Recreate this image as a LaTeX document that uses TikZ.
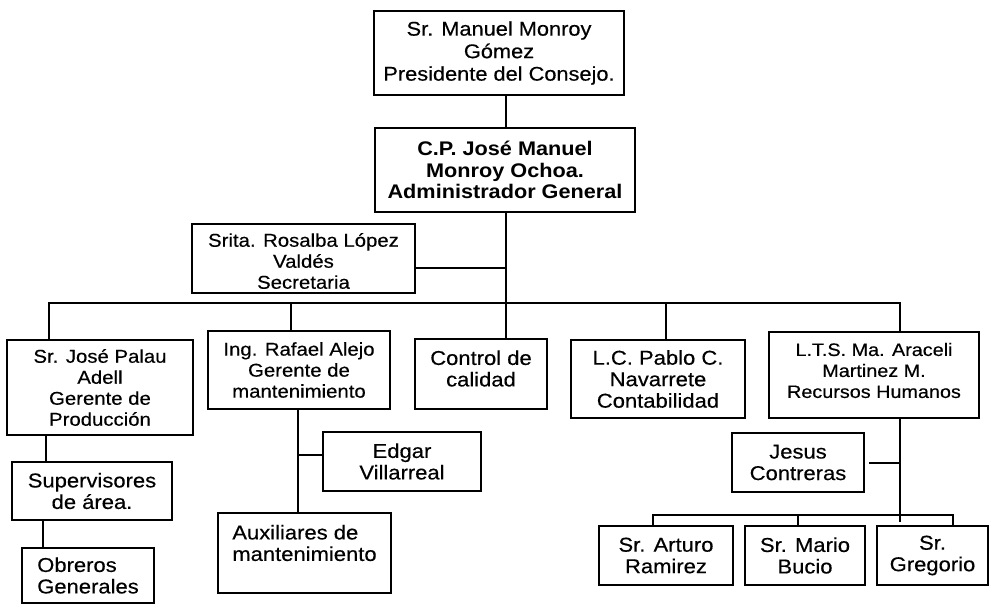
\documentclass[tikz,border=0pt]{standalone}
\usepackage{fontspec}
\setmainfont{Liberation Sans}[FakeStretch=1.1, UprightFeatures={FakeBold=0.4}]
\begin{document}
\begin{tikzpicture}[x=1pt,y=-1pt,
  line width=1.6pt,
  box/.style={draw, line width=1.6pt, inner sep=0pt, align=center},
  txt/.style={inner sep=0pt},
  fa/.style={font=\fontsize{20}{21.5}\selectfont},
  fb/.style={font=\fontsize{18.5}{21}\selectfont},
  fc/.style={font=\fontsize{18}{21}\selectfont},
  ftop/.style={font=\fontsize{19.8}{22.5}\selectfont},
  fbold/.style={font=\fontsize{19.7}{21.5}\selectfont\bfseries}]
\useasboundingbox (0,0) rectangle (990,606);

% boxes
\node[box, ftop, minimum width=250pt, minimum height=84pt] (top) at (499,53)
  {Sr. Manuel Monroy\\Gómez\\Presidente del Consejo.};
\node[box, fbold, minimum width=260pt, minimum height=84pt] (adm) at (505,170)
  {C.P. José Manuel\\Monroy Ochoa.\\Administrador General};
\node[box, minimum width=223pt, minimum height=69pt] (sec) at (303.5,258.5) {};
\node[txt, fb, align=center] (sect) at (303.5,261)
  {Srita. Rosalba López\\Valdés\\Secretaria};
\node[box, fb, minimum width=186pt, minimum height=95pt] (palau) at (100,387.5)
  {Sr. José Palau\\Adell\\Gerente de\\Producción};
\node[box, fb, minimum width=182pt, minimum height=78pt] (rafael) at (299,370)
  {Ing. Rafael Alejo\\Gerente de\\mantenimiento};
\node[box, minimum width=132pt, minimum height=70pt] (control) at (481,374) {};
\node[txt, fa, align=center] (controlt) at (481,368.5) {Control de\\calidad};
\node[box, fa, minimum width=174pt, minimum height=78pt] (pablo) at (658,379)
  {L.C. Pablo C.\\Navarrete\\Contabilidad};
\node[box, minimum width=210pt, minimum height=86pt] (lts) at (874,375) {};
\node[txt, fc, align=center] (ltst) at (874,370.5)
  {L.T.S. Ma. Araceli\\Martinez M.\\Recursos Humanos};
\node[box, fa, minimum width=158pt, minimum height=59pt] (edgar) at (402,461.5)
  {Edgar\\Villarreal};
\node[box, minimum width=173pt, minimum height=80pt] (aux) at (304.5,553) {};
\node[txt, fa, align=left] (auxt) at (304.5,543) {Auxiliares de\\mantenimiento};
\node[box, fa, minimum width=160pt, minimum height=58pt] (sup) at (92,491)
  {Supervisores\\de área.};
\node[box, fa, align=left, minimum width=132pt, minimum height=55pt] (obr) at (88,575.5)
  {Obreros\\Generales};
\node[box, fa, minimum width=132pt, minimum height=59pt] (jesus) at (798,462.5)
  {Jesus\\Contreras};
\node[box, fa, minimum width=134pt, minimum height=59pt] (arturo) at (666,555.5)
  {Sr. Arturo\\Ramirez};
\node[box, fa, minimum width=120pt, minimum height=59pt] (mario) at (805,555.5)
  {Sr. Mario\\Bucio};
\node[box, fa, minimum width=111pt, minimum height=59pt] (greg) at (932.5,555.5)
  {Sr.\\Gregorio};

% junction coordinates
\coordinate (sp) at (506,303);
\coordinate (s1) at (506,268);
\coordinate (bl) at (49,303);
\coordinate (br) at (900,303);
\coordinate (d2) at (291,303);
\coordinate (d4) at (666,303);
\coordinate (c1) at (46,450);
\coordinate (c2) at (43,530);
\coordinate (r1) at (298,455);
\coordinate (l1) at (900,463);
\coordinate (l2) at (900,522);
\coordinate (sb1) at (653,515);
\coordinate (sb2) at (798,515);
\coordinate (sb3) at (953,515);

% connectors
\draw (top.south -| sp) -- (adm.north -| sp);
\draw (adm.south -| sp) -- (control.north -| sp);
\draw (sec.east |- s1) -- (s1);
\draw (palau.north -| bl) -- (bl) -- (br) -- (lts.north -| br);
\draw (d2) -- (rafael.north -| d2);
\draw (d4) -- (pablo.north -| d4);
\draw (palau.south -| c1) -- (sup.north -| c1);
\draw (sup.south -| c2) -- (obr.north -| c2);
\draw (rafael.south -| r1) -- (aux.north -| r1);
\draw (r1) -- (edgar.west |- r1);
\draw (lts.south -| l2) -- (l2);
\draw ([xshift=4pt]jesus.east |- l1) -- (l1);
\draw (arturo.north -| sb1) -- (sb1) -- (sb3) -- (greg.north -| sb3);
\draw (sb2) -- (mario.north -| sb2);
\end{tikzpicture}
\end{document}
